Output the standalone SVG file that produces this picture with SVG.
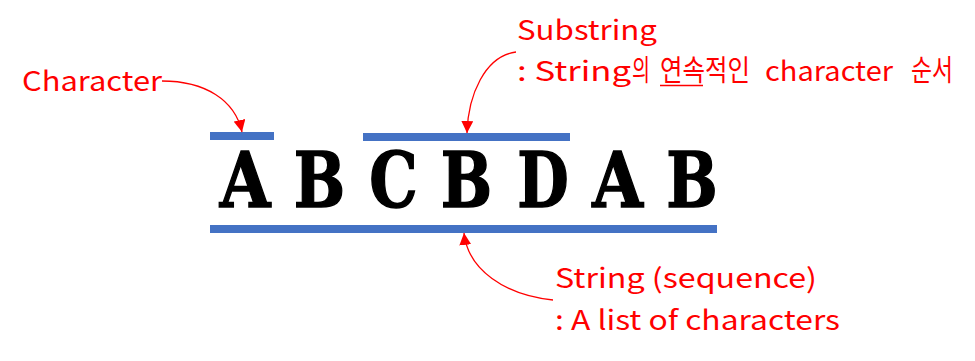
<svg xmlns="http://www.w3.org/2000/svg" width="975" height="361" viewBox="0 0 975 361">
<style>
.lbl{font-family:"Noto Sans CJK KR","Noto Sans",sans-serif;font-size:27px;fill:#FF0000}
.ko{font-size:29px}
.big{font-family:"DejaVu Serif","Liberation Serif",serif;font-weight:bold;font-size:76px;fill:#000;text-anchor:middle;stroke:#000;stroke-width:1.5}
.bar{fill:#4472C4}
.conn{fill:none;stroke:#FF0000;stroke-width:1.3}
</style>
<defs>
<marker id="ah" markerUnits="userSpaceOnUse" markerWidth="12" markerHeight="12" viewBox="0 0 12 12" refX="12" refY="6" orient="auto">
<path d="M0,0 L12,6 L0,12 z" fill="#FF0000"/>
</marker>
</defs>
<rect width="975" height="361" fill="#fff"/>
<g id="letters">
<text class="big" transform="translate(245,207) scale(0.86,1)">A</text>
<text class="big" transform="translate(319.5,207) scale(0.8,1)">B</text>
<text class="big" transform="translate(393.5,207) scale(0.8,1)">C</text>
<text class="big" transform="translate(466.5,207) scale(0.8,1)">B</text>
<text class="big" transform="translate(543,207) scale(0.78,1)">D</text>
<text class="big" transform="translate(617.5,207) scale(0.86,1)">A</text>
<text class="big" transform="translate(692,207) scale(0.8,1)">B</text>
</g>
<g id="bars">
<rect id="bar-char" class="bar" x="210" y="132" width="64" height="8"/>
<rect id="bar-substring" class="bar" x="363" y="133" width="207" height="8"/>
<rect id="bar-string" class="bar" x="210" y="225" width="507" height="8"/>
</g>
<g id="node-character">
<text class="lbl" x="22" y="91" textLength="140" lengthAdjust="spacingAndGlyphs">Character</text>
</g>
<g id="node-substring">
<text class="lbl" x="517" y="40" textLength="140" lengthAdjust="spacingAndGlyphs">Substring</text>
<text class="lbl" y="81"><tspan x="517" textLength="114" lengthAdjust="spacingAndGlyphs">: String</tspan><tspan class="ko" x="632" textLength="18" lengthAdjust="spacingAndGlyphs">의</tspan><tspan class="ko" x="660" textLength="90" lengthAdjust="spacingAndGlyphs">연속적인</tspan><tspan x="765" textLength="128" lengthAdjust="spacingAndGlyphs">character</tspan><tspan class="ko" x="911" textLength="42" lengthAdjust="spacingAndGlyphs">순서</tspan></text>
<line x1="660" y1="85.5" x2="703" y2="85.5" stroke="#FF0000" stroke-width="1.6"/>
</g>
<g id="node-string">
<text class="lbl" x="555" y="288" textLength="262" lengthAdjust="spacingAndGlyphs">String (sequence)</text>
<text class="lbl" x="555" y="330" textLength="285" lengthAdjust="spacingAndGlyphs">: A list of characters</text>
</g>
<g id="connectors">
<path class="conn" d="M162,81 C205,81 235,100 242,132" marker-end="url(#ah)"/>
<path class="conn" d="M516,52 C485,56 468,95 467,133" marker-end="url(#ah)"/>
<path class="conn" d="M553,300 C505,295 468,270 464,233" marker-end="url(#ah)"/>
</g>
</svg>
